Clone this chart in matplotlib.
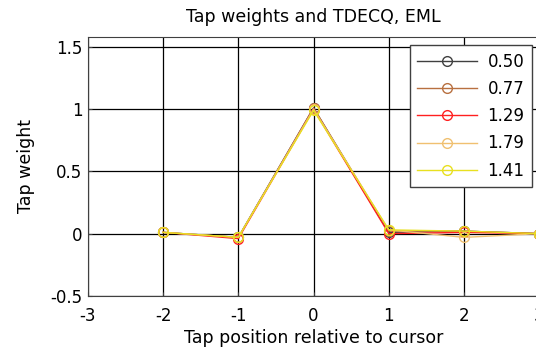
import matplotlib
matplotlib.use("Agg")
import matplotlib.pyplot as plt

plt.rcParams['font.family'] = ['DejaVu Sans']

tap_pos = [-2, -1, 0, 1, 2, 3]
labels = ["0.50", "0.77", "1.29", "1.79", "1.41"]
w_050 = [0.01, -0.03, 1.01, 0.01, 0.02, 0.00]
w_077 = [0.01, -0.03, 1.01, 0.02, 0.02, 0.00]
w_129 = [0.01, -0.04, 1.00, 0.00, 0.01, 0.00]
w_179 = [0.01, -0.03, 1.00, 0.03, -0.03, 0.00]
w_141 = [0.01, -0.03, 0.99, 0.03, 0.02, 0.00]
series = [w_050, w_077, w_129, w_179, w_141]
colors = ["#404040", "#b87040", "#ff2020", "#f0c070", "#e8e020"]

fig = plt.figure(figsize=(5.36, 3.51), dpi=100)
ax = fig.add_axes([0.164, 0.157, 0.842, 0.738])

for lab, ys, c in zip(labels, series, colors):
    ax.plot(tap_pos, ys, color=c, lw=1.0, marker='o', ms=7,
            mfc='none', mec=c, mew=1.0, label=lab)

ax.set_xlim(-3, 3)
ax.set_ylim(-0.5, 1.58)
ax.set_xticks([-3, -2, -1, 0, 1, 2, 3])
ax.set_yticks([-0.5, 0, 0.5, 1, 1.5])
ax.set_xticklabels(["-3", "-2", "-1", "0", "1", "2", "3"])
ax.set_yticklabels(["-0.5", "0", "0.5", "1", "1.5"])
ax.grid(True, color='black', lw=0.9)
ax.set_axisbelow(True)
ax.tick_params(direction='in', labelsize=12, length=3, color='#404040', pad=4)
ax.tick_params(axis='x', pad=8)
for s in ax.spines.values():
    s.set_color('#404040')
ax.set_title("Tap weights and TDECQ, EML", fontsize=12.5, pad=11)
ax.set_xlabel("Tap position relative to cursor", fontsize=12.5, labelpad=3)
ax.set_ylabel("Tap weight", fontsize=12.5, labelpad=11)

leg = ax.legend(loc='upper right', bbox_to_anchor=(0.984, 0.967), fontsize=12,
                fancybox=False, framealpha=1, edgecolor='#404040',
                handlelength=3.6, labelspacing=0.55, borderpad=0.45,
                handletextpad=0.6, borderaxespad=0.0)
leg.get_frame().set_linewidth(1.0)

fig.savefig("out.png", dpi=100)
